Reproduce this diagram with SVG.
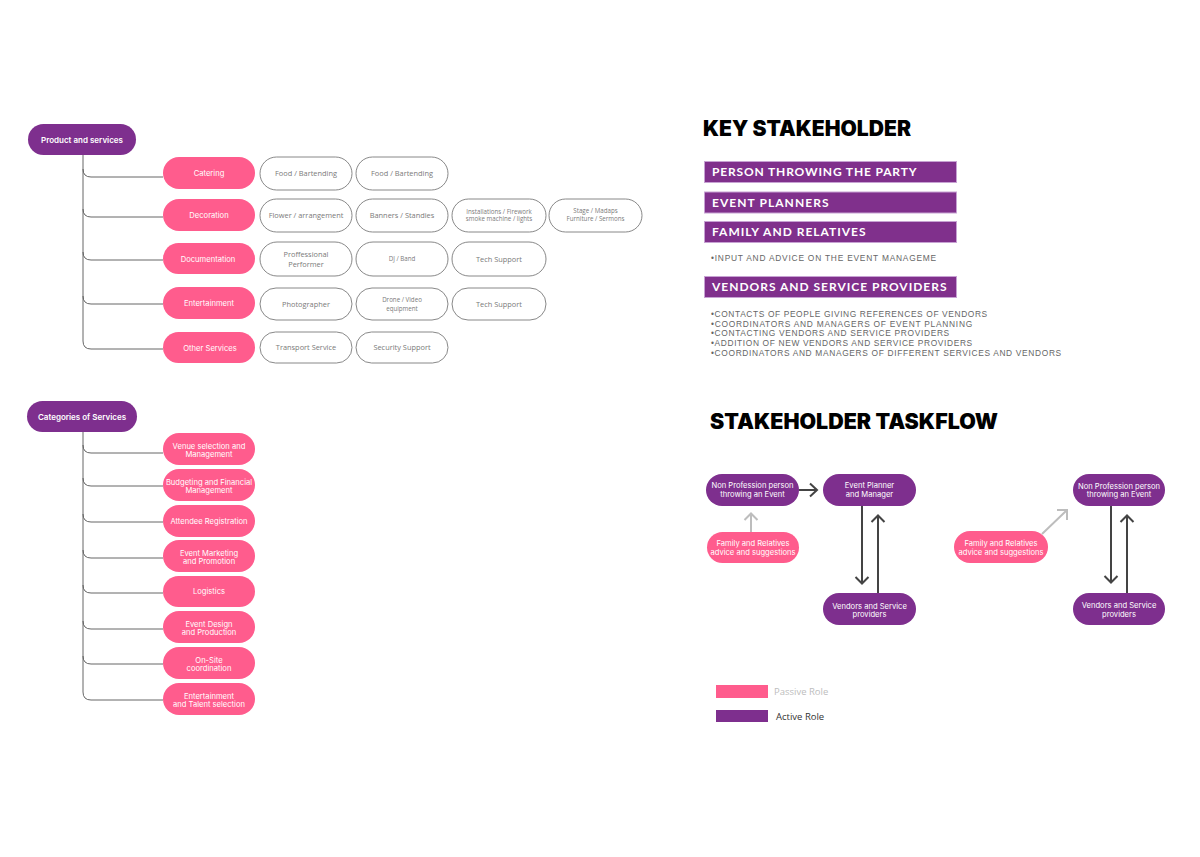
<svg xmlns="http://www.w3.org/2000/svg" width="1200" height="857" viewBox="0 0 1200 857">
<defs>
<style>
.pk{fill:#FF5C8D}
.pp{fill:#7E2F8E}
.wt{fill:#fff;font-family:Inter,"Noto Sans",sans-serif;font-size:7.6px;text-anchor:middle}
.wb{fill:#fff;font-family:Inter,"Noto Sans",sans-serif;font-size:8px;font-weight:600;text-anchor:middle}
.ol{fill:#fff;stroke:#6a6a6a;stroke-width:0.8}
.ot{fill:#7a7a7a;font-family:"Open Sans","Noto Sans",sans-serif;font-size:7.4px;text-anchor:middle}
.os{fill:#7a7a7a;font-family:"Open Sans","Noto Sans",sans-serif;font-size:6.2px;text-anchor:middle}
.br{fill:none;stroke:#555;stroke-width:0.9}
.bar{fill:#80308C;stroke:#c7a2d3;stroke-width:1}
.bt{fill:#fff;font-family:Lato,"Noto Sans",sans-serif;font-size:12px;font-weight:700;letter-spacing:1.5px}
.lt{fill:#666;font-family:"Liberation Sans",Arial,sans-serif;font-size:8.4px;letter-spacing:0.8px}
.ttl{fill:#000;font-family:Inter,"Liberation Sans",sans-serif;font-weight:900;font-size:21px}
.da{fill:none;stroke:#444;stroke-width:2}
.ga{fill:none;stroke:#bdbdbd;stroke-width:2}
</style>
</defs>

<!-- Product and services tree -->
<g id="connectors-products">
<path class="br" d="M83 155 V341 Q83 349 91 349 H163"/>
<path class="br" d="M83 169 Q83 177 91 177 H163"/>
<path class="br" d="M83 209 Q83 217 91 217 H163"/>
<path class="br" d="M83 252 Q83 260 91 260 H163"/>
<path class="br" d="M83 296 Q83 304 91 304 H163"/>
</g>
<g id="n-products">
<rect class="pp" x="28" y="124" width="108" height="31" rx="15.5"/>
<text class="wb" x="82" y="142.5">Product and services</text>
</g>
<g id="n-catering"><rect class="pk" x="163" y="157" width="92" height="32" rx="16"/><text class="wt" x="209" y="175.5">Catering</text></g>
<g id="n-decoration"><rect class="pk" x="163" y="199" width="92" height="32" rx="16"/><text class="wt" x="209" y="218">Decoration</text></g>
<g id="n-documentation"><rect class="pk" x="163" y="243" width="92" height="31" rx="15.5"/><text class="wt" x="208" y="261.5">Documentation</text></g>
<g id="n-entertainment"><rect class="pk" x="163" y="287" width="92" height="32" rx="16"/><text class="wt" x="209" y="306">Entertainment</text></g>
<g id="n-other"><rect class="pk" x="163" y="332" width="92" height="31" rx="15.5"/><text class="wt" x="210" y="350.5">Other Services</text></g>

<g id="n-food1"><rect class="ol" x="260" y="157" width="92" height="33" rx="16.5"/><text class="ot" x="306" y="176">Food / Bartending</text></g>
<g id="n-food2"><rect class="ol" x="356" y="157" width="92" height="33" rx="16.5"/><text class="ot" x="402" y="176">Food / Bartending</text></g>

<g id="n-flower"><rect class="ol" x="260" y="199" width="92" height="33" rx="16.5"/><text class="ot" x="306" y="218">Flower / arrangement</text></g>
<g id="n-banners"><rect class="ol" x="356" y="199" width="92" height="33" rx="16.5"/><text class="ot" x="402" y="218">Banners / Standies</text></g>
<g id="n-install"><rect class="ol" x="452" y="199" width="94" height="33" rx="16.5"/><text class="os" x="499" y="213.8">Installations / Firework</text><text class="os" x="499" y="221.4">smoke machine / lights</text></g>
<g id="n-stage"><rect class="ol" x="549" y="199" width="93" height="33" rx="16.5"/><text class="os" x="595.5" y="213">Stage / Madaps</text><text class="os" x="595.5" y="221.3">Furniture / Sermons</text></g>

<g id="n-perf"><rect class="ol" x="260" y="242" width="92" height="34" rx="17"/><text class="ot" x="306" y="257">Proffessional</text><text class="ot" x="306" y="267">Performer</text></g>
<g id="n-dj"><rect class="ol" x="356" y="242" width="92" height="34" rx="17"/><text class="os" x="402" y="260.5">DJ / Band</text></g>
<g id="n-tech1"><rect class="ol" x="452" y="242" width="94" height="34" rx="17"/><text class="ot" x="499" y="261.5">Tech Support</text></g>

<g id="n-photo"><rect class="ol" x="260" y="288" width="92" height="32" rx="16"/><text class="ot" x="306" y="306.5">Photographer</text></g>
<g id="n-drone"><rect class="ol" x="356" y="288" width="92" height="32" rx="16"/><text class="os" x="402" y="302.3">Drone / Video</text><text class="os" x="402" y="310.6">equipment</text></g>
<g id="n-tech2"><rect class="ol" x="452" y="288" width="94" height="32" rx="16"/><text class="ot" x="499" y="306.5">Tech Support</text></g>

<g id="n-transport"><rect class="ol" x="260" y="332" width="92" height="31" rx="15.5"/><text class="ot" x="306" y="350">Transport Service</text></g>
<g id="n-security"><rect class="ol" x="356" y="332" width="92" height="31" rx="15.5"/><text class="ot" x="402" y="350">Security Support</text></g>

<!-- Categories tree -->
<g id="connectors-categories">
<path class="br" d="M83 432 V692 Q83 700 91 700 H163"/>
<path class="br" d="M83 445 Q83 453 91 453 H163"/>
<path class="br" d="M83 478 Q83 486 91 486 H163"/>
<path class="br" d="M83 514 Q83 522 91 522 H163"/>
<path class="br" d="M83 550 Q83 558 91 558 H163"/>
<path class="br" d="M83 585 Q83 593 91 593 H163"/>
<path class="br" d="M83 621 Q83 629 91 629 H163"/>
<path class="br" d="M83 656 Q83 664 91 664 H163"/>
</g>
<g id="n-categories">
<rect class="pp" x="27" y="401" width="110" height="31" rx="15.5"/>
<text class="wb" x="82" y="419.5">Categories of Services</text>
</g>
<g id="n-venue"><rect class="pk" x="163" y="433" width="92" height="32" rx="16"/><text class="wt" x="209" y="448.5">Venue selection and</text><text class="wt" x="209" y="457">Management</text></g>
<g id="n-budget"><rect class="pk" x="163" y="469" width="92" height="32" rx="16"/><text class="wt" x="209" y="484.5">Budgeting and Financial</text><text class="wt" x="209" y="493">Management</text></g>
<g id="n-attendee"><rect class="pk" x="163" y="505" width="92" height="32" rx="16"/><text class="wt" x="209" y="523.5">Attendee Registration</text></g>
<g id="n-marketing"><rect class="pk" x="163" y="540" width="92" height="32" rx="16"/><text class="wt" x="209" y="555.5">Event Marketing</text><text class="wt" x="209" y="564">and Promotion</text></g>
<g id="n-logistics"><rect class="pk" x="163" y="576" width="92" height="31" rx="15.5"/><text class="wt" x="209" y="594">Logistics</text></g>
<g id="n-design"><rect class="pk" x="163" y="611" width="92" height="32" rx="16"/><text class="wt" x="209" y="626.5">Event Design</text><text class="wt" x="209" y="635">and Production</text></g>
<g id="n-onsite"><rect class="pk" x="163" y="647" width="92" height="32" rx="16"/><text class="wt" x="209" y="662.5">On-Site</text><text class="wt" x="209" y="671">coordination</text></g>
<g id="n-talent"><rect class="pk" x="163" y="683" width="92" height="32" rx="16"/><text class="wt" x="209" y="698.5">Entertainment</text><text class="wt" x="209" y="707">and Talent selection</text></g>

<!-- Key stakeholder -->
<g id="key-stakeholder">
<text class="ttl" x="703" y="136" textLength="208" lengthAdjust="spacingAndGlyphs">KEY STAKEHOLDER</text>
<rect class="bar" x="704.5" y="161.5" width="252" height="21"/>
<text class="bt" x="712" y="176" textLength="206" lengthAdjust="spacing">PERSON THROWING THE PARTY</text>
<rect class="bar" x="704.5" y="192" width="252" height="21"/>
<text class="bt" x="712" y="206.5" textLength="118" lengthAdjust="spacing">EVENT PLANNERS</text>
<rect class="bar" x="704.5" y="221.5" width="252" height="21"/>
<text class="bt" x="712" y="236" textLength="155" lengthAdjust="spacing">FAMILY AND RELATIVES</text>
<text class="lt" x="711" y="261" textLength="226" lengthAdjust="spacing">•INPUT AND ADVICE ON THE EVENT MANAGEME</text>
<rect class="bar" x="704.5" y="276.5" width="252" height="21"/>
<text class="bt" x="712" y="291" textLength="236" lengthAdjust="spacing">VENDORS AND SERVICE PROVIDERS</text>
<text class="lt" x="711" y="316.5" textLength="277" lengthAdjust="spacing">•CONTACTS OF PEOPLE GIVING REFERENCES OF VENDORS</text>
<text class="lt" x="711" y="326.5" textLength="262" lengthAdjust="spacing">•COORDINATORS AND MANAGERS OF EVENT PLANNING</text>
<text class="lt" x="711" y="336" textLength="239" lengthAdjust="spacing">•CONTACTING VENDORS AND SERVICE PROVIDERS</text>
<text class="lt" x="711" y="346" textLength="262" lengthAdjust="spacing">•ADDITION OF NEW VENDORS AND SERVICE PROVIDERS</text>
<text class="lt" x="711" y="356" textLength="351" lengthAdjust="spacing">•COORDINATORS AND MANAGERS OF DIFFERENT SERVICES AND VENDORS</text>
</g>

<!-- Taskflow -->
<text class="ttl" x="710" y="429" font-size="20" textLength="288" lengthAdjust="spacingAndGlyphs">STAKEHOLDER TASKFLOW</text>

<g id="connectors-taskflow">
<path class="da" d="M799 490 H817 M810 483.5 L817 490 L810 496.5"/>
<path class="ga" d="M751 532 V514 M744.5 520 L751 513.5 L757.5 520"/>
<path class="da" d="M862 506 V583 M855.5 577 L862 583.5 L868.5 577"/>
<path class="da" d="M878 593 V516 M871.5 522 L878 515.5 L884.5 522"/>
<path class="ga" d="M1042 534 L1066 511 M1057 510 L1067 510 L1067 520"/>
<path class="da" d="M1111 506 V582 M1104.5 576 L1111 582.5 L1117.5 576"/>
<path class="da" d="M1127 593 V516 M1120.5 522 L1127 515.5 L1133.5 522"/>
</g>

<g id="t-nonpro1"><rect class="pp" x="706" y="474" width="93" height="32" rx="16"/><text class="wt" x="752.5" y="488">Non Profession person</text><text class="wt" x="752.5" y="497">throwing an Event</text></g>
<g id="t-planner"><rect class="pp" x="823" y="474" width="93" height="32" rx="16"/><text class="wt" x="869.5" y="488">Event Planner</text><text class="wt" x="869.5" y="497">and Manager</text></g>
<g id="t-family1"><rect class="pk" x="707" y="532" width="92" height="31" rx="15.5"/><text class="wt" x="753" y="546">Family and Relatives</text><text class="wt" x="753" y="555">advice and suggestions</text></g>
<g id="t-vendors1"><rect class="pp" x="823" y="593" width="93" height="32" rx="16"/><text class="wt" x="869.5" y="608.5">Vendors and Service</text><text class="wt" x="869.5" y="617">providers</text></g>

<g id="t-nonpro2"><rect class="pp" x="1073" y="474" width="92" height="32" rx="16"/><text class="wt" x="1119" y="488.5">Non Profession person</text><text class="wt" x="1119" y="497">throwing an Event</text></g>
<g id="t-family2"><rect class="pk" x="954" y="531" width="94" height="32" rx="16"/><text class="wt" x="1001" y="546">Family and Relatives</text><text class="wt" x="1001" y="555">advice and suggestions</text></g>
<g id="t-vendors2"><rect class="pp" x="1073" y="593" width="92" height="32" rx="16"/><text class="wt" x="1119" y="608">Vendors and Service</text><text class="wt" x="1119" y="617">providers</text></g>

<!-- Legend -->
<g id="legend">
<rect class="pk" x="716" y="685" width="52" height="13"/>
<text x="774" y="695" fill="#bdbdbd" font-family="'Open Sans','Noto Sans',sans-serif" font-size="9.5px">Passive Role</text>
<rect class="pp" x="716" y="710" width="52" height="12"/>
<text x="776" y="720" fill="#333" font-family="'Open Sans','Noto Sans',sans-serif" font-size="9.5px">Active Role</text>
</g>
</svg>
